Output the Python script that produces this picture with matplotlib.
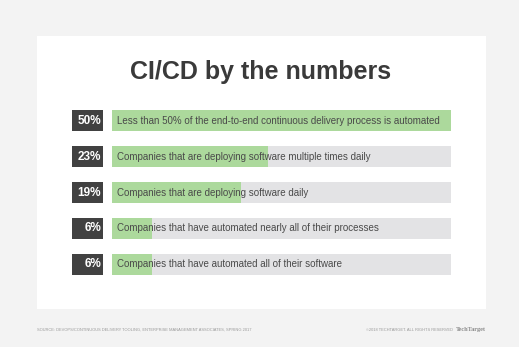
import matplotlib
matplotlib.use('Agg')
import matplotlib.pyplot as plt
from matplotlib.patches import Rectangle

# data
percent_labels = ['50%', '23%', '19%', '6%', '6%']
values = [50, 23, 19, 6, 6]
descriptions = [
    'Less than 50% of the end-to-end continuous delivery process is automated',
    'Companies that are deploying software multiple times daily',
    'Companies that are deploying software daily',
    'Companies that have automated nearly all of their processes',
    'Companies that have automated all of their software',
]
scale_max = 50
title = 'CI/CD by the numbers'
source = 'SOURCE: DEVOPS/CONTINUOUS DELIVERY TOOLING, ENTERPRISE MANAGEMENT ASSOCIATES, SPRING 2017'
copyright_text = '\u00a92018 TECHTARGET. ALL RIGHTS RESERVED'

W, H = 519, 347
DARK = '#414141'
GREEN = '#acd99c'
GRAY = '#e3e3e5'
TEXT = '#4a4a4a'

plt.rcParams['font.family'] = ['Liberation Sans', 'DejaVu Sans']

fig = plt.figure(figsize=(W / 100, H / 100), dpi=100)
fig.patch.set_facecolor('#f3f3f3')

def fx(px):
    return px / W

def fy(py):
    return 1 - py / H

# white card, kept behind the axes
fig.add_artist(Rectangle((fx(37), fy(309)), fx(486) - fx(37), fy(36) - fy(309),
                         transform=fig.transFigure, facecolor='white', edgecolor='none',
                         zorder=-5))

fig.text(fx(261), fy(72), title, ha='center', va='center', fontsize=18,
         fontweight='bold', color='#3a3a3a')

# bars axis: left edge at dark box, right edge at end of bar
px_per_unit = (450.7 - 111.7) / scale_max
left_lim = -(111.7 - 71.7) / px_per_unit
box_right = -(111.7 - 102.7) / px_per_unit
ax = fig.add_axes([fx(71.7), fy(275), fx(450.7) - fx(71.7), fy(110) - fy(275)])
ax.set_xlim(left_lim, scale_max)
ax.set_ylim(4.297, -0.297)
ax.axis('off')
ax.patch.set_alpha(0)

ys = list(range(len(values)))
h = 0.593
ax.barh(ys, [scale_max] * len(ys), left=0, height=h, color=GRAY)
ax.barh(ys, values, left=0, height=h, color=GREEN)
ax.barh(ys, [box_right - left_lim] * len(ys), left=left_lim, height=h, color=DARK)

for y, p, d in zip(ys, percent_labels, descriptions):
    ax.text(box_right - 0.25, y, p, ha='right', va='center', color='white',
            fontsize=8.5, fontweight='bold')
    ax.text(0.8, y, d, ha='left', va='center', color=TEXT, fontsize=7.0)

# footer
fig.text(fx(37), fy(330), source, ha='left', va='center', fontsize=2.85, color='#9a9a9a')
fig.text(fx(453), fy(330), copyright_text, ha='right', va='center', fontsize=2.9, color='#9a9a9a')
fig.text(fx(486), fy(330), 'TechTarget', ha='right', va='center', fontsize=4.5,
         fontweight='bold', color='#8a8a8a', family='Liberation Serif')

fig.savefig('out.png', dpi=100, facecolor=fig.get_facecolor())
